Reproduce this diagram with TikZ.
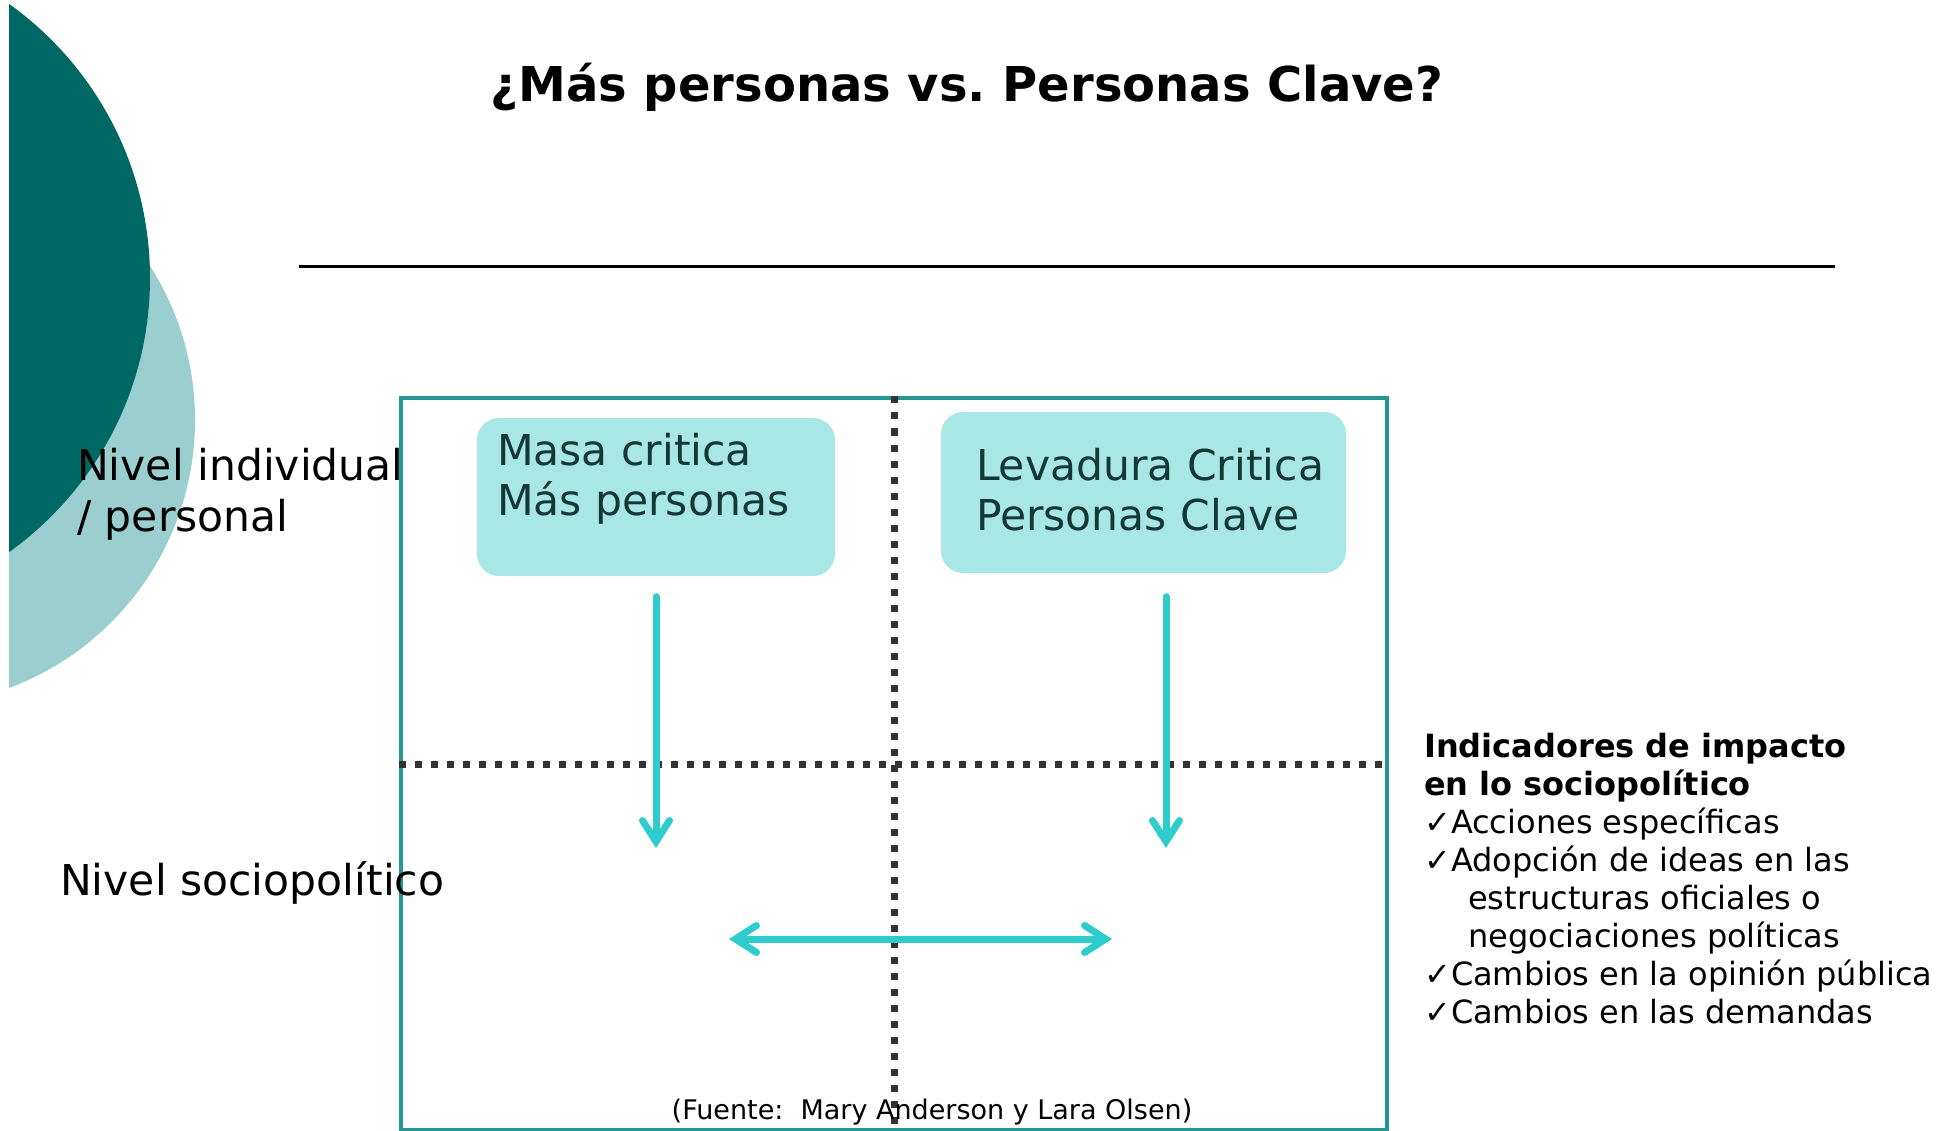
\documentclass[tikz,border=0pt]{standalone}
\usepackage{fontspec}
\setmainfont{DejaVu Sans}
\usetikzlibrary{arrows.meta,positioning}

\definecolor{tealoscuro}{RGB}{0,104,100}
\definecolor{tealclaro}{RGB}{155,206,206}
\definecolor{marcoteal}{RGB}{38,150,146}
\definecolor{flechacian}{RGB}{46,204,204}
\definecolor{cajacian}{RGB}{168,231,229}
\definecolor{textocajac}{RGB}{20,55,55}
\definecolor{puntos}{RGB}{51,51,51}

\begin{document}
\frenchspacing
\begin{tikzpicture}[x=1pt, y=-1pt,
    caja/.style={fill=cajacian, rounded corners=22pt, inner sep=0pt},
    textocaja/.style={text=textocajac, align=left, inner sep=0pt, font=\fontsize{42.5}{50}\selectfont},
    nivel/.style={align=left, inner sep=0pt, font=\fontsize{42.5}{51}\selectfont},
    punteado/.style={draw=puntos, line width=7pt, dash pattern=on 7pt off 9pt},
    flecha/.style={draw=flechacian, line width=7pt, line cap=round,
        -{Straight Barb[length=21pt, width=27pt, line cap=round]}},
    flechadoble/.style={flecha,
        {Straight Barb[length=21pt, width=27pt, line cap=round]}-{Straight Barb[length=21pt, width=27pt, line cap=round]}},
    ]
    \useasboundingbox (0,0) rectangle (1952,1131);
    \begin{scope}
        \clip (9,0) rectangle (1952,1131);
        \fill[tealclaro] (-91,420) circle[radius=286];
        \fill[tealoscuro] (-187,278) circle[radius=337];
    \end{scope}

    \node[font=\fontsize{48}{58}\selectfont\bfseries, anchor=base] (titulo) at (967,102)
        {¿Más personas vs. Personas Clave?};
    \coordinate (reglaA) at (299,267);
    \coordinate (reglaB) at (1835,267);
    \draw[line width=3pt] (reglaA) -- (reglaB);

    \node[draw=marcoteal, line width=4pt, minimum width=986pt, minimum height=731pt,
        inner sep=0pt] (marco) at (894,764) {};
    \draw[punteado] (marco.north) -- (marco.south);
    \draw[punteado] (marco.west) -- (marco.east);

    \node[caja, minimum width=358pt, minimum height=158pt] (masa) at (656,497) {};
    \node[textocaja, anchor=base west] (masatexto) at ([xshift=20pt, yshift=-98pt]masa.north west)
        {Masa critica\\Más personas};
    \node[caja, minimum width=405pt, minimum height=161pt] (levadura) at (1143.5,492.5) {};
    \node[textocaja, anchor=base west] (levaduratexto) at ([xshift=35pt, yshift=-119pt]levadura.north west)
        {Levadura Critica\\Personas Clave};

    \coordinate (finmasa) at (656,848);
    \coordinate (finlevadura) at (1166,848);
    \draw[flecha] ([yshift=-20.5pt]masa.south) -- (finmasa);
    \draw[flecha] ([xshift=22.5pt, yshift=-23.5pt]levadura.south) -- (finlevadura);
    \coordinate (interizq) at (729,939);
    \coordinate (interder) at (1112,939);
    \draw[flechadoble] (interizq) -- (interder);

    \node[nivel, anchor=base west] (individual) at (77,531) {Nivel individual\\/ personal};
    \node[nivel, anchor=base west] (socio) at (60,895) {Nivel sociopolítico};

    \node[align=left, inner sep=0pt, anchor=base west, font=\fontsize{32}{38}\selectfont]
        (indicadores) at (1424,1023) {%
        \textbf{Indicadores de impacto}\\
        \textbf{en lo sociopolítico}\\
        ✓Acciones específicas\\
        ✓Adopción de ideas en las\\
        \hspace*{44pt}estructuras oficiales o\\
        \hspace*{44pt}negociaciones políticas\\
        ✓Cambios en la opinión pública\\
        ✓Cambios en las demandas};

    \node[font=\fontsize{27}{32}\selectfont, anchor=base, inner sep=0pt] (fuente) at (932,1119)
        {(Fuente:\ \ Mary Anderson y Lara Olsen)};
\end{tikzpicture}
\end{document}
